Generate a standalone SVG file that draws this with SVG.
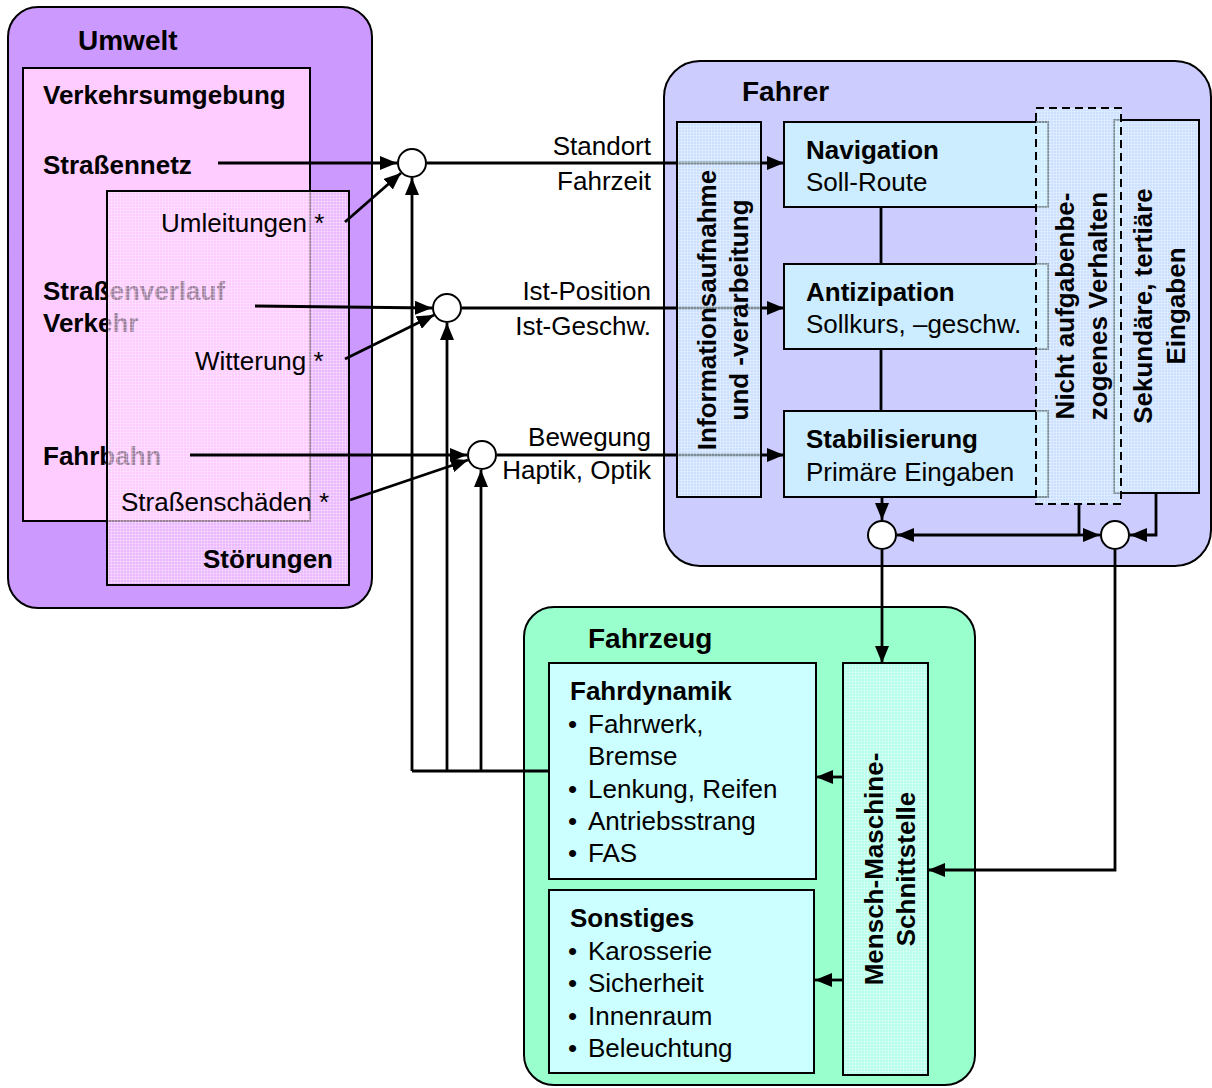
<svg xmlns="http://www.w3.org/2000/svg" width="1212" height="1088" viewBox="0 0 1212 1088">
<defs>
<style>
text{font-family:"Liberation Sans",Arial,sans-serif;font-size:26px;fill:#000}
.b{font-weight:bold}
.t{font-weight:bold;font-size:28px}
.box{stroke:#000;stroke-width:2}
.conn{stroke:#000;stroke-width:2.8;fill:none}
.arr{marker-end:url(#ah)}
.sum{fill:#fff;stroke:#000;stroke-width:2}
.grid{fill:url(#grid);stroke:none}
</style>
<pattern id="grid" width="3" height="3" patternUnits="userSpaceOnUse">
<path d="M0,0.5H3M0.5,0V3" stroke="#fff" stroke-opacity="0.28" stroke-width="1"/>
</pattern>
<marker id="ah" viewBox="0 0 10 10" refX="10" refY="5" markerWidth="17" markerHeight="14" preserveAspectRatio="none" markerUnits="userSpaceOnUse" orient="auto-start-reverse">
<path d="M0,0L10,5L0,10z" fill="#000"/>
</marker>
</defs>
<rect width="1212" height="1088" fill="#fff"/>

<g id="umwelt">
<rect class="box" x="8" y="7" width="364" height="601" rx="30" fill="#CC99FF"/>
<text class="t" x="78" y="50">Umwelt</text>
</g>
<g id="verkehrsumgebung">
<rect class="box" x="23" y="68" width="287" height="453" fill="#FFCCFF"/>
<text class="b" x="43" y="104">Verkehrsumgebung</text>
<text class="b" x="43" y="174">Straßennetz</text>
<text class="b" x="43" y="300">Straßenverlauf</text>
<text class="b" x="43" y="332">Verkehr</text>
<text class="b" x="43" y="465">Fahrbahn</text>
</g>
<g id="stoerungen">
<rect x="107" y="191" width="242" height="394" fill="#FFCCFF" fill-opacity="0.62"/>
<rect class="grid" x="107" y="191" width="242" height="394"/>
<rect x="107" y="191" width="242" height="394" fill="none" stroke="#000" stroke-width="2"/>
<text x="161" y="232">Umleitungen *</text>
<text x="195" y="370">Witterung *</text>
<text x="121" y="511">Straßenschäden *</text>
<text class="b" x="333" y="568" text-anchor="end">Störungen</text>
</g>

<g id="fahrer">
<rect class="box" x="664" y="61" width="547" height="505" rx="36" fill="#CCCCFF"/>
<text class="t" x="742" y="101">Fahrer</text>
</g>
<g id="fahrzeug">
<rect class="box" x="524" y="607" width="451" height="478" rx="30" fill="#99FFCC"/>
<text class="t" x="588" y="648">Fahrzeug</text>
</g>

<g id="connectors">
<line class="conn arr" x1="218" y1="163" x2="397" y2="163"/>
<line class="conn arr" x1="345" y1="222" x2="401" y2="173"/>
<line class="conn arr" x1="255" y1="306" x2="432" y2="308"/>
<line class="conn arr" x1="345" y1="359" x2="434" y2="315"/>
<line class="conn arr" x1="190" y1="455" x2="467" y2="455"/>
<line class="conn arr" x1="350" y1="500" x2="468" y2="460"/>
<line class="conn arr" x1="427" y1="163" x2="784" y2="163"/>
<line class="conn arr" x1="462" y1="308" x2="784" y2="308"/>
<line class="conn arr" x1="497" y1="455" x2="784" y2="455"/>
<polyline class="conn" points="549,771 412,771"/>
<line class="conn arr" x1="412" y1="771" x2="412" y2="178"/>
<line class="conn arr" x1="447" y1="771" x2="447" y2="323"/>
<line class="conn arr" x1="481" y1="771" x2="481" y2="470"/>
<line class="conn" x1="881" y1="207" x2="881" y2="264"/>
<line class="conn" x1="881" y1="349" x2="881" y2="411"/>
<line class="conn arr" x1="882" y1="497" x2="882" y2="520"/>
<line class="conn arr" x1="1079" y1="535" x2="897" y2="535"/>
<line class="conn arr" x1="1079" y1="535" x2="1100" y2="535"/>
<line class="conn" x1="1079" y1="504" x2="1079" y2="535"/>
<polyline class="conn arr" points="1156,493 1156,535 1130,535"/>
<line class="conn arr" x1="882" y1="550" x2="882" y2="663"/>
<polyline class="conn arr" points="1115,550 1115,870 928,870"/>
<line class="conn arr" x1="843" y1="777" x2="816" y2="777"/>
<line class="conn arr" x1="843" y1="980" x2="815" y2="980"/>
<text x="651" y="155" text-anchor="end">Standort</text>
<text x="651" y="190" text-anchor="end">Fahrzeit</text>
<text x="651" y="300" text-anchor="end">Ist-Position</text>
<text x="651" y="335" text-anchor="end">Ist-Geschw.</text>
<text x="651" y="446" text-anchor="end">Bewegung</text>
<text x="651" y="479" text-anchor="end">Haptik, Optik</text>
</g>

<g id="sum-standort"><circle class="sum" cx="412" cy="163" r="14"/></g>
<g id="sum-position"><circle class="sum" cx="447" cy="308" r="14"/></g>
<g id="sum-bewegung"><circle class="sum" cx="482" cy="455" r="14"/></g>
<g id="sum-primaer"><circle class="sum" cx="882" cy="535" r="14"/></g>
<g id="sum-sekundaer"><circle class="sum" cx="1115" cy="535" r="14"/></g>

<g id="informationsaufnahme">
<rect x="677" y="122" width="84" height="375" fill="#CCECFF" fill-opacity="0.6"/>
<rect class="grid" x="677" y="122" width="84" height="375"/>
<rect x="677" y="122" width="84" height="375" fill="none" stroke="#000" stroke-width="2"/>
<text class="b" transform="translate(716,310) rotate(-90)" text-anchor="middle">Informationsaufnahme</text>
<text class="b" transform="translate(748,310) rotate(-90)" text-anchor="middle">und -verarbeitung</text>
</g>
<g id="navigation">
<rect class="box" x="784" y="122" width="264" height="85" fill="#CCECFF"/>
<text class="b" x="806" y="159">Navigation</text>
<text x="806" y="191">Soll-Route</text>
</g>
<g id="antizipation">
<rect class="box" x="784" y="264" width="264" height="85" fill="#CCECFF"/>
<text class="b" x="806" y="301">Antizipation</text>
<text x="806" y="333">Sollkurs, –geschw.</text>
</g>
<g id="stabilisierung">
<rect class="box" x="784" y="411" width="264" height="86" fill="#CCECFF"/>
<text class="b" x="806" y="448">Stabilisierung</text>
<text x="806" y="481">Primäre Eingaben</text>
</g>
<g id="sekundaer">
<rect x="1114" y="120" width="85" height="373" fill="#CCECFF" fill-opacity="0.6"/>
<rect class="grid" x="1114" y="120" width="85" height="373"/>
<rect x="1114" y="120" width="85" height="373" fill="none" stroke="#000" stroke-width="2"/>
<text class="b" transform="translate(1152,306) rotate(-90)" text-anchor="middle">Sekundäre, tertiäre</text>
<text class="b" transform="translate(1185,306) rotate(-90)" text-anchor="middle">Eingaben</text>
</g>
<g id="nicht-aufgabenbezogen">
<rect x="1036" y="108" width="85" height="396" fill="#CCECFF" fill-opacity="0.6"/>
<rect class="grid" x="1036" y="108" width="85" height="396"/>
<rect x="1036" y="108" width="85" height="396" fill="none" stroke="#000" stroke-width="2" stroke-dasharray="8,5"/>
<text class="b" transform="translate(1074,306) rotate(-90)" text-anchor="middle">Nicht aufgabenbe-</text>
<text class="b" transform="translate(1107,306) rotate(-90)" text-anchor="middle">zogenes Verhalten</text>
</g>

<g id="fahrdynamik">
<rect class="box" x="549" y="663" width="267" height="216" fill="#CCFFFF"/>
<text class="b" x="570" y="700">Fahrdynamik</text>
<text x="568" y="733">•</text><text x="588" y="733">Fahrwerk,</text>
<text x="588" y="765">Bremse</text>
<text x="568" y="798">•</text><text x="588" y="798">Lenkung, Reifen</text>
<text x="568" y="830">•</text><text x="588" y="830">Antriebsstrang</text>
<text x="568" y="862">•</text><text x="588" y="862">FAS</text>
</g>
<g id="sonstiges">
<rect class="box" x="549" y="890" width="265" height="183" fill="#CCFFFF"/>
<text class="b" x="570" y="927">Sonstiges</text>
<text x="568" y="960">•</text><text x="588" y="960">Karosserie</text>
<text x="568" y="992">•</text><text x="588" y="992">Sicherheit</text>
<text x="568" y="1025">•</text><text x="588" y="1025">Innenraum</text>
<text x="568" y="1057">•</text><text x="588" y="1057">Beleuchtung</text>
</g>
<g id="mms">
<rect x="843" y="663" width="85" height="412" fill="#CCFFFF" fill-opacity="0.6"/>
<rect class="grid" x="843" y="663" width="85" height="412"/>
<rect x="843" y="663" width="85" height="412" fill="none" stroke="#000" stroke-width="2"/>
<text class="b" transform="translate(883,869) rotate(-90)" text-anchor="middle">Mensch-Maschine-</text>
<text class="b" transform="translate(915,869) rotate(-90)" text-anchor="middle">Schnittstelle</text>
</g>
</svg>
